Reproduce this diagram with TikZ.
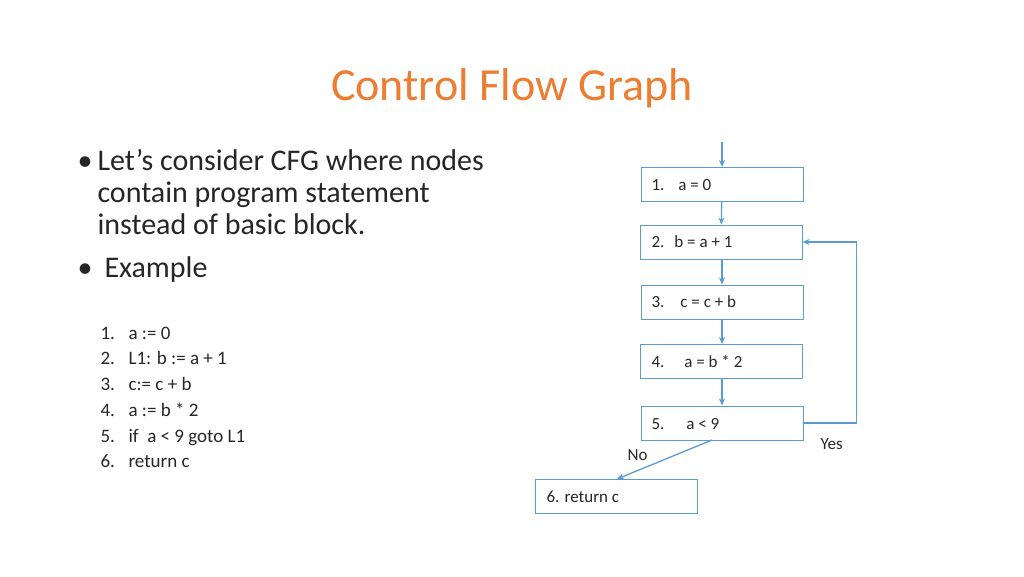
\documentclass[tikz,border=0pt]{standalone}
\usepackage{fontspec}
\setmainfont{Carlito}
\usetikzlibrary{arrows.meta,positioning}
\definecolor{lineblue}{HTML}{5B9BD5}
\definecolor{titleorange}{HTML}{ED7D31}
\tikzset{
  stmt/.style={draw=lineblue, line width=1pt, minimum width=162pt, minimum height=34pt, inner sep=0pt},
  flow/.style={draw=lineblue, line width=1.3pt, -{Stealth[length=7pt,width=6pt]}},
  boxtxt/.style={font=\fontsize{17}{20}\selectfont, text=black!85, anchor=base west},
  bul/.style={font=\fontsize{30}{34}\selectfont, anchor=base west, text=black!85},
  lst/.style={font=\fontsize{19}{22}\selectfont, anchor=base west, text=black!85}
}
\begin{document}
\begin{tikzpicture}[x=1pt,y=-1pt]
\useasboundingbox (0,0) rectangle (1024,576);
% Title
\node[text=titleorange, font=\fontsize{46}{50}\selectfont, anchor=base] (title) at (512,100) {Control Flow Graph};

% Bullets
\node[bul] (b1) at (74,170) {\textbullet};
\node[bul] (l1) at (94,170) {Let’s consider CFG where nodes};
\node[bul] (l2) at (94,202) {contain program statement};
\node[bul] (l3) at (94,234) {instead of basic block.};
\node[bul] (b2) at (74,277) {\textbullet};
\node[bul] (l4) at (101,277) {Example};

% Program
\foreach \n/\t/\y in {1/{a := 0}/339, 2/{L1: b := a + 1}/364, 3/{c:= c + b}/390,
  4/{a := b * 2}/416, 5/{if~ a < 9 goto L1}/442, 6/{return c}/467}{
  \node[lst] (n\n) at (97,\y) {\n.};
  \node[lst] (p\n) at (125,\y) {\t};
}

% CFG nodes
\node[stmt] (s1) at (722,184.5) {};
\node[stmt] (s2) at (721,242) {};
\node[stmt] (s3) at (722,302) {};
\node[stmt] (s4) at (721.5,361.5) {};
\node[stmt] (s5) at (722,423) {};
\node[stmt] (s6) at (616.5,496) {};
\node[boxtxt] at (648,190) {1.\hspace{14pt}a = 0};
\node[boxtxt] at (648,247) {2.\hspace{10pt}b = a + 1};
\node[boxtxt] at (648,307) {3.\hspace{16pt}c = c + b};
\node[boxtxt] at (648,367) {4.\hspace{20pt}a = b * 2};
\node[boxtxt] at (648,429) {5.\hspace{22pt}a < 9};
\node[boxtxt] at (543,502) {6. return c};

% Edges
\coordinate (entry) at (722,142);
\draw[flow] (entry) -- (s1);
\draw[flow] (s1) -- (s2);
\draw[flow] (s2.south -| s3) -- (s3);
\draw[flow] (s3) -- (s4.north -| s3);
\draw[flow] (s4.south -| s5) -- (s5);
\draw[flow] (s5.east) -- ++(53,0) |- (s2.east);
\draw[flow] (712,440) -- (617,479);
\node[boxtxt] (yes) at (817,449) {Yes};
\node[boxtxt] (no) at (624,460) {No};
\end{tikzpicture}
\end{document}
